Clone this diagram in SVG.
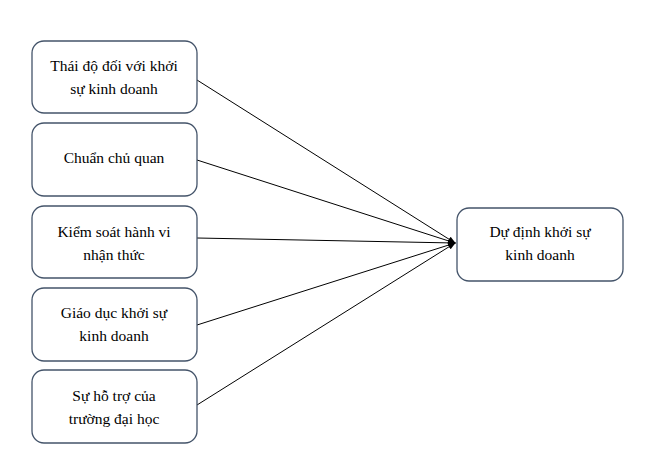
<svg xmlns="http://www.w3.org/2000/svg" width="651" height="469" viewBox="0 0 651 469">
<style>
.b{fill:#fff;stroke:#44546a;stroke-width:1.3}
.t{font-family:"Liberation Serif",serif;font-size:15.5px;fill:#000;text-anchor:middle}
.c{stroke:#000;stroke-width:1;fill:none;marker-end:url(#a)}
</style>
<defs><marker id="a" markerWidth="8" markerHeight="8" refX="7" refY="4" orient="auto" markerUnits="userSpaceOnUse"><path d="M0,1L8,4L0,7z" fill="#000"/></marker></defs>
<rect width="651" height="469" fill="#fff"/>
<g id="connectors">
<line class="c" x1="197" y1="80" x2="455" y2="243"/>
<line class="c" x1="197" y1="160" x2="455" y2="243"/>
<line class="c" x1="197" y1="238" x2="455" y2="243"/>
<line class="c" x1="197" y1="325" x2="455" y2="243"/>
<line class="c" x1="197" y1="405" x2="455" y2="243"/>
</g>
<g id="n1"><rect class="b" x="32" y="41" width="165" height="72" rx="12"/><text class="t" x="114" y="71">Thái độ đối với khởi</text><text class="t" x="114" y="94">sự kinh doanh</text></g>
<g id="n2"><rect class="b" x="32" y="123" width="165" height="73" rx="12"/><text class="t" x="114" y="163">Chuẩn chủ quan</text></g>
<g id="n3"><rect class="b" x="32" y="206" width="165" height="72" rx="12"/><text class="t" x="114" y="237">Kiểm soát hành vi</text><text class="t" x="114" y="260">nhận thức</text></g>
<g id="n4"><rect class="b" x="32" y="288" width="165" height="73" rx="12"/><text class="t" x="114" y="318">Giáo dục khởi sự</text><text class="t" x="114" y="341">kinh doanh</text></g>
<g id="n5"><rect class="b" x="32" y="370" width="165" height="73" rx="12"/><text class="t" x="114" y="401">Sự hỗ trợ của</text><text class="t" x="114" y="424">trường đại học</text></g>
<g id="n6"><rect class="b" x="457" y="208" width="166" height="73" rx="12"/><text class="t" x="540" y="237">Dự định khởi sự</text><text class="t" x="540" y="260">kinh doanh</text></g>
</svg>
